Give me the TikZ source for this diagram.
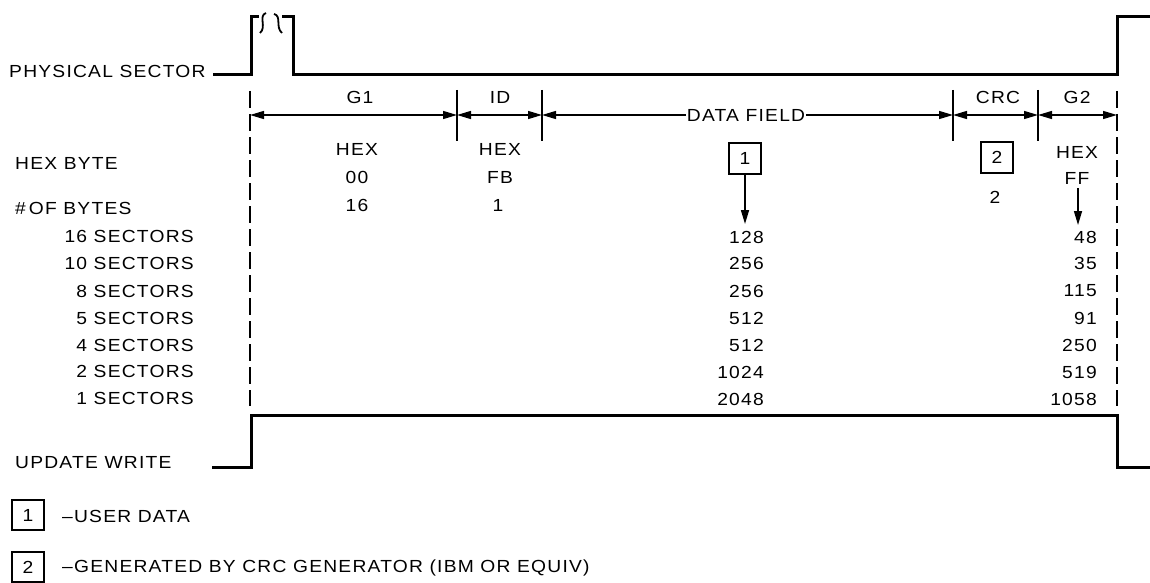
\documentclass[tikz,border=0pt]{standalone}
\usepackage{fontspec}
\setmainfont{Liberation Sans}[FakeStretch=1.1, LetterSpace=7]
\usetikzlibrary{arrows.meta}
\tikzset{
  wave/.style={line width=3pt, line join=miter},
  tick/.style={line width=1.4pt},
  guide/.style={line width=1.4pt, dash pattern=on 17pt off 6pt},
  dimarr/.style={line width=1.3pt, {Triangle[length=14pt,width=8pt]}-{Triangle[length=14pt,width=8pt]}},
  onearr/.style={line width=1.3pt, -{Triangle[length=14pt,width=8pt]}},
  downarr/.style={line width=1.5pt, -{Triangle[length=14pt,width=8pt]}},
  lbl/.style={font=\fontsize{17.5}{19}\selectfont, inner sep=0pt},
  numbox/.style={lbl, draw, line width=2pt, minimum width=32pt, minimum height=31pt},
  legbox/.style={lbl, draw, line width=1.7pt, minimum width=32pt, minimum height=30pt},
}
\begin{document}
\begin{tikzpicture}[x=1pt,y=-1pt]
\useasboundingbox (0,0) rectangle (1150,583);

% waveforms
\draw[wave] (213,75) -- (251,75) -- (251,17) -- (259,17);
\draw[line width=1.8pt] (266,13) .. controls (258,16) and (267,27) .. (260,33);
\draw[line width=1.8pt] (274,14) .. controls (282,16) and (275,27) .. (282,33);
\draw[wave] (282,17) -- (293,17) -- (293,75) -- (1117,75) -- (1117,17) -- (1150,17);
\draw[wave] (212,467) -- (251,467) -- (251,415) -- (1117,415) -- (1117,467) -- (1150,467);

% guides and ticks
\coordinate (t0) at (250,115);
\coordinate (t1) at (457,115);
\coordinate (t2) at (542,115);
\coordinate (t3) at (953,115);
\coordinate (t4) at (1038,115);
\coordinate (t5) at (1117,115);
\draw[guide] (250,91) -- (250,406);
\draw[guide] (1117,91) -- (1117,406);
\draw[tick] (457,90) -- (457,141);
\draw[tick] (542,90) -- (542,141);
\draw[tick] (953,90) -- (953,141);
\draw[tick] (1038,90) -- (1038,141);

% dimension arrows
\draw[dimarr] (t0) -- (t1);
\draw[dimarr] (t1) -- (t2);
\node[lbl, fill=white, inner xsep=1pt] (df) at (746,115) {DATA FIELD};
\draw[onearr] (df.west) -- (t2);
\draw[onearr] (df.east) -- (t3);
\draw[dimarr] (t3) -- (t4);
\draw[dimarr] (t4) -- (t5);

\node[lbl] (g1) at (360,97) {G1};
\node[lbl] (id) at (500,97) {ID};
\node[lbl] (crc) at (998,97) {CRC};
\node[lbl] (g2) at (1077,97) {G2};

% left labels
\node[lbl, anchor=west] (ps) at (9,71) {PHYSICAL SECTOR};
\node[lbl, anchor=west] (hb) at (15,163) {HEX BYTE};
\node[lbl, anchor=west] (nb) at (15,208) {\#\hspace{3pt}OF BYTES};
\node[lbl, anchor=east] (s16) at (194,236) {16 SECTORS};
\node[lbl, anchor=east] (s10) at (194,263) {10 SECTORS};
\node[lbl, anchor=east] (s8) at (194,291) {8 SECTORS};
\node[lbl, anchor=east] (s5) at (194,318) {5 SECTORS};
\node[lbl, anchor=east] (s4) at (194,345) {4 SECTORS};
\node[lbl, anchor=east] (s2) at (194,371) {2 SECTORS};
\node[lbl, anchor=east] (s1) at (194,398) {1 SECTORS};
\node[lbl, anchor=west] (uw) at (15,463) {UPDATE WRITE};

% G1 column
\node[lbl] (g1hex) at (357,149) {HEX};
\node[lbl] (g1val) at (357,177) {00};
\node[lbl] (g1n) at (357,205) {16};
% ID column
\node[lbl] (idhex) at (500,149) {HEX};
\node[lbl] (idval) at (500,177) {FB};
\node[lbl] (idn) at (498,205) {1};

% data column
\node[numbox] (b1) at (745,158) {1};
\coordinate (b1end) at (745,224);
\draw[downarr] (b1.south) -- (b1end);
\node[lbl, anchor=east] (d16) at (764,237) {128};
\node[lbl, anchor=east] (d10) at (764,263) {256};
\node[lbl, anchor=east] (d8) at (764,291) {256};
\node[lbl, anchor=east] (d5) at (764,318) {512};
\node[lbl, anchor=east] (d4) at (764,345) {512};
\node[lbl, anchor=east] (d2) at (764,372) {1024};
\node[lbl, anchor=east] (d1) at (764,399) {2048};

% CRC column
\node[numbox] (b2) at (997,157) {2};
\node[lbl] (crcn) at (995,197) {2};

% G2 column
\node[lbl] (g2hex) at (1077,152) {HEX};
\node[lbl] (g2val) at (1077,178) {FF};
\coordinate (g2end) at (1078,225);
\draw[downarr] ([xshift=1pt,yshift=-4pt]g2val.south) -- (g2end);
\node[lbl, anchor=east] (e16) at (1097,237) {48};
\node[lbl, anchor=east] (e10) at (1097,263) {35};
\node[lbl, anchor=east] (e8) at (1097,291) {115};
\node[lbl, anchor=east] (e5) at (1097,318) {91};
\node[lbl, anchor=east] (e4) at (1097,345) {250};
\node[lbl, anchor=east] (e2) at (1097,372) {519};
\node[lbl, anchor=east] (e1) at (1097,399) {1058};

% legend
\node[legbox] (lb1) at (28,515) {1};
\node[lbl, anchor=west] (lt1) at (62,516) {--USER DATA};
\node[legbox] (lb2) at (28,567) {2};
\node[lbl, anchor=west] (lt2) at (62,568) {--GENERATED BY CRC GENERATOR (IBM OR EQUIV)};
\end{tikzpicture}
\end{document}
